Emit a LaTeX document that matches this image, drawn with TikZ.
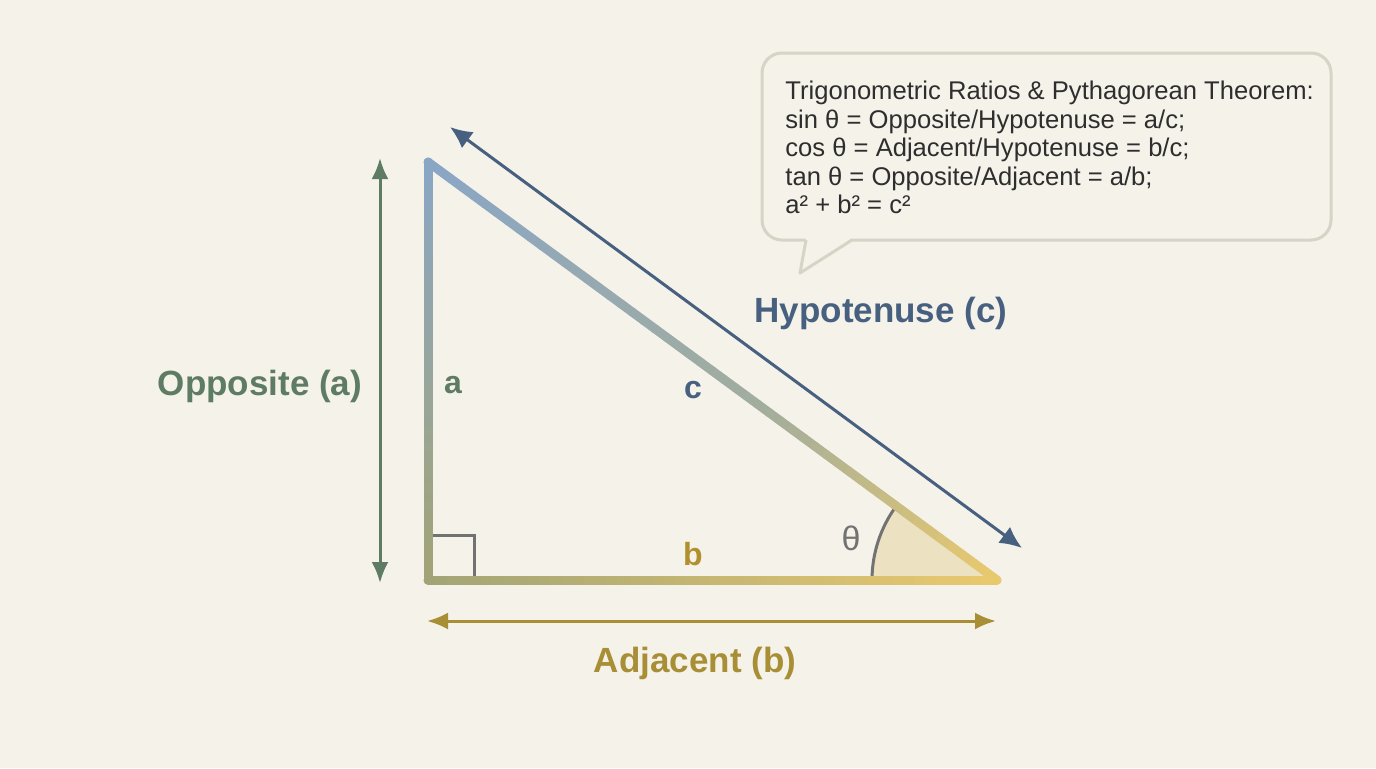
\documentclass[tikz,border=0pt]{standalone}
\usepackage{fontspec}
\setmainfont{Liberation Sans}
\usetikzlibrary{arrows.meta,calc}
\definecolor{bg}{HTML}{F5F2EA}
\definecolor{cblue}{HTML}{8AA6C6}
\definecolor{csage}{HTML}{A2AD9C}
\definecolor{colive}{HTML}{A2A476}
\definecolor{cyel}{HTML}{E9C96E}
\definecolor{oppc}{HTML}{5E7B63}
\definecolor{hypc}{HTML}{48607F}
\definecolor{adjc}{HTML}{A88E34}
\definecolor{lblb}{HTML}{B08F2C}
\definecolor{boxc}{HTML}{D6D4C6}
\definecolor{wedgec}{HTML}{ECE2C2}
\definecolor{greyc}{HTML}{727272}
\definecolor{txtc}{HTML}{2E2E2E}
\tikzset{
  dimarrow/.style={line width=1.5pt,{Latex[length=10.5pt,width=8.5pt]}-{Latex[length=10.5pt,width=8.5pt]}},
  biglabel/.style={font=\bfseries\fontsize{17.5}{20}\selectfont,inner sep=0pt},
  sidelabel/.style={font=\bfseries\fontsize{16}{18}\selectfont,inner sep=0pt},
  callout/.style={draw=boxc,line width=1.5pt,fill=bg,rounded corners=10pt},
  sidestroke/.style={line width=4.5pt,line cap=round},
}
\begin{document}
\begin{tikzpicture}[x=0.5pt,y=-0.5pt]
\fill[bg] (0,0) rectangle (1376,768);
\useasboundingbox (0,0) rectangle (1376,768);
\coordinate (T) at (428,162);
\coordinate (R) at (428,580);
\coordinate (Q) at (997,580);
% angle wedge
\fill[wedgec] (Q) -- ++(-125,0) arc[start angle=180,end angle=143.7,radius=62.5pt] -- cycle;
\draw[greyc,line width=1.5pt] ($(Q)+(-125,0)$) arc[start angle=180,end angle=143.7,radius=62.5pt];
% right angle mark
\draw[greyc,line width=1.5pt] ($(R)+(0,-45)$) -- ++(46,0) -- ++(0,45);
% triangle sides with colour gradients
\foreach \i in {1,...,50}{
  \pgfmathsetmacro\t{(\i-0.5)/50}
  \pgfmathsetmacro\p{100*\t}
  \ifdim\t pt<0.6pt
    \pgfmathsetmacro\q{100*\t/0.6}\def\hc{csage!\q!cblue}
  \else
    \pgfmathsetmacro\q{100*(\t-0.6)/0.4}\def\hc{cyel!\q!csage}
  \fi
  \draw[sidestroke,color=\hc] ($(T)!{(\i-1)/50}!(Q)$) -- ($(T)!{\i/50}!(Q)$);
  \draw[sidestroke,color=colive!\p!cblue] ($(T)!{(\i-1)/50}!(R)$) -- ($(T)!{\i/50}!(R)$);
  \draw[sidestroke,color=cyel!\p!colive] ($(R)!{(\i-1)/50}!(Q)$) -- ($(R)!{\i/50}!(Q)$);
}
% dimension arrows
\coordinate (o1) at (380,158); \coordinate (o2) at (380,583);
\coordinate (h1) at (450,127); \coordinate (h2) at (1022,548);
\coordinate (a1) at (427,621); \coordinate (a2) at (996,621);
\draw[dimarrow,oppc] (o1) -- (o2);
\draw[dimarrow,hypc,{Latex[length=11pt,width=10pt]}-{Latex[length=11pt,width=10pt]}] (h1) -- (h2);
\draw[dimarrow,adjc] (a1) -- (a2);
% labels
\node[biglabel,text=oppc] (lopp) at (260,386) {Opposite (a)};
\node[biglabel,text=hypc] (lhyp) at (881,313) {Hypotenuse (c)};
\node[biglabel,text=adjc] (ladj) at (695,663) {Adjacent (b)};
\node[sidelabel,text=oppc] (la) at (453,385) {a};
\node[sidelabel,text=hypc] (lc) at (693,390) {c};
\node[sidelabel,text=lblb] (lb) at (693,554) {b};
\node[font=\fontsize{17}{20}\selectfont,text=greyc,inner sep=0pt] (lth) at (851,538) {θ};
% callout
\draw[callout] (762,53) rectangle (1331,240);
\fill[bg] (806,238) -- (800,273) -- (852,238) -- cycle;
\draw[boxc,line width=1.5pt,line join=round] (806,240) -- (800,273) -- (852,240);
\node[anchor=north west,align=left,text=txtc,font=\fontsize{12.8}{14.25}\selectfont,inner sep=0pt] (info) at (785,81)
{Trigonometric Ratios \& Pythagorean Theorem:\\
sin θ = Opposite/Hypotenuse = a/c;\\
cos θ = Adjacent/Hypotenuse = b/c;\\
tan θ = Opposite/Adjacent = a/b;\\
a² + b² = c²};
\end{tikzpicture}
\end{document}
